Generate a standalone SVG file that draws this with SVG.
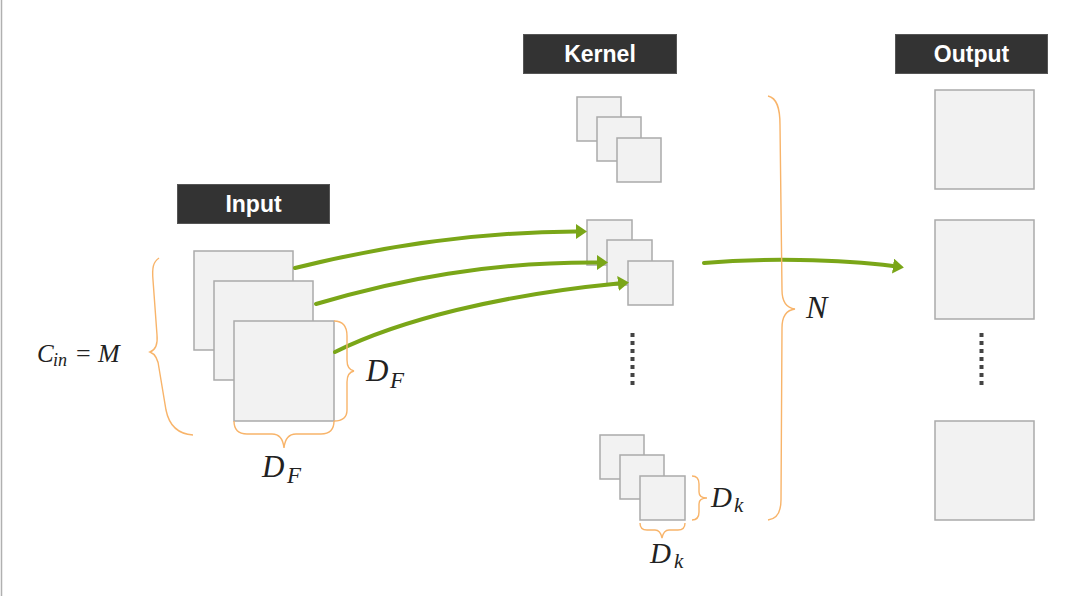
<svg xmlns="http://www.w3.org/2000/svg" width="1071" height="596" viewBox="0 0 1071 596">
<style>
.sq{fill:#f2f2f2;stroke:#aaaaaa;stroke-width:1.5}
.lbl{fill:#333333;stroke:#555555;stroke-width:1}
.lt{fill:#ffffff;font-family:"Liberation Sans",Arial,sans-serif;font-weight:bold;font-size:23px;text-anchor:middle}
.br{fill:none;stroke:#f8b46a;stroke-width:1.4}
.ar{fill:none;stroke:#7aa618;stroke-width:4;stroke-linecap:round}
.dots{stroke:#444444;stroke-width:4;stroke-dasharray:4 4}
.m{font-family:"Liberation Serif","Times New Roman",serif;font-style:italic;fill:#222222}
.mu{font-family:"Liberation Serif","Times New Roman",serif;fill:#222222}
</style>
<defs>
<marker id="ah" markerUnits="userSpaceOnUse" markerWidth="14" markerHeight="16" refX="0" refY="7.5" orient="auto">
<path d="M0,0 L11,7.5 L0,15 z" fill="#7aa618"/>
</marker>
</defs>
<rect x="0" y="0" width="1071" height="596" fill="#ffffff"/>
<line x1="1.5" y1="0" x2="1.5" y2="596" stroke="#b0b0b0" stroke-width="1.5"/>

<g id="input-label">
<rect class="lbl" x="177.5" y="184.5" width="152" height="39"/>
<text class="lt" x="253.5" y="212">Input</text>
</g>
<g id="kernel-label">
<rect class="lbl" x="523.5" y="34.5" width="153" height="39"/>
<text class="lt" x="600" y="62">Kernel</text>
</g>
<g id="output-label">
<rect class="lbl" x="895.5" y="34.5" width="152" height="39"/>
<text class="lt" x="971.5" y="62">Output</text>
</g>

<g id="input-maps">
<rect class="sq" x="194" y="251" width="99" height="99"/>
<rect class="sq" x="214" y="281" width="99" height="99"/>
<rect class="sq" x="234" y="321" width="100" height="100"/>
</g>

<g id="kernel-top">
<rect class="sq" x="577" y="97" width="44" height="44"/>
<rect class="sq" x="597" y="117" width="44" height="44"/>
<rect class="sq" x="617" y="138" width="44" height="44"/>
</g>
<g id="kernel-mid">
<rect class="sq" x="587" y="220" width="45" height="45"/>
<rect class="sq" x="607" y="240" width="45" height="45"/>
<rect class="sq" x="628" y="261" width="45" height="44"/>
</g>
<g id="kernel-bottom">
<rect class="sq" x="600" y="435" width="44" height="44"/>
<rect class="sq" x="620" y="455" width="44" height="44"/>
<rect class="sq" x="640" y="476" width="45" height="44"/>
</g>
<g id="kernel-dots">
<line class="dots" x1="632.5" y1="333" x2="632.5" y2="386"/>
</g>

<g id="output-maps">
<rect class="sq" x="935" y="90" width="99" height="99"/>
<rect class="sq" x="935" y="220" width="99" height="99"/>
<rect class="sq" x="935" y="421" width="99" height="99"/>
<line class="dots" x1="981.5" y1="333" x2="981.5" y2="386"/>
</g>

<g id="connectors">
<path class="ar" d="M295,268 C375,248 470,232 576,231.5" marker-end="url(#ah)"/>
<path class="ar" d="M316,304 C400,279 490,262 597,262.5" marker-end="url(#ah)"/>
<path class="ar" d="M335,352 C400,320 500,295 618,283.5" marker-end="url(#ah)"/>
<path class="ar" d="M704,263 C760,258 840,259 893,266" marker-end="url(#ah)"/>
</g>

<g id="braces">
<path class="br" d="M159,258 C153,262 152,268 153,280 L157,335 C158,345 155,350 150,352 C155,354 158,358 159,368 L166,410 C169,425 178,434 193,435"/>
<path class="br" d="M334,321 C343,321 347,326 347,336 L347,360 C347,366 349,370 354,371 C349,372 347,376 347,382 L347,410 C347,417 343,421 334,421"/>
<path class="br" d="M234,421 C234,430 238,434 247,434 L272,434 C279,434 283,438 284,448 C285,438 289,434 296,434 L321,434 C330,434 334,430 334,421"/>
<path class="br" d="M692,476 C697,476 699,479 699,484 L699,492 C699,496 702,498 707,498 C702,498 699,500 699,504 L699,512 C699,517 697,520 692,520"/>
<path class="br" d="M640,523 C640,528 643,530 647,530 L655,530 C659,530 661,533 662,538 C663,533 665,530 669,530 L678,530 C682,530 685,528 685,523"/>
<path class="br" d="M768,96 C777,98 780,108 780,125 L782,290 C782,302 787,308 795,309 C787,310 782,316 782,328 L781,500 C781,512 777,519 768,520"/>
</g>

<g id="math-labels">
<text class="m" x="37" y="362" font-size="25">C</text>
<text class="m" x="53" y="366" font-size="18">in</text>
<text class="mu" x="76" y="362" font-size="26">=</text>
<text class="m" x="98" y="362" font-size="26">M</text>
<text class="m" x="366" y="381" font-size="31">D</text>
<text class="m" x="390" y="388" font-size="23">F</text>
<text class="m" x="262" y="477" font-size="31">D</text>
<text class="m" x="287" y="483" font-size="23">F</text>
<text class="m" x="806" y="318" font-size="32">N</text>
<text class="m" x="711" y="507" font-size="29">D</text>
<text class="m" x="734" y="512" font-size="21">k</text>
<text class="m" x="650" y="563" font-size="29">D</text>
<text class="m" x="674" y="568" font-size="21">k</text>
</g>
</svg>
